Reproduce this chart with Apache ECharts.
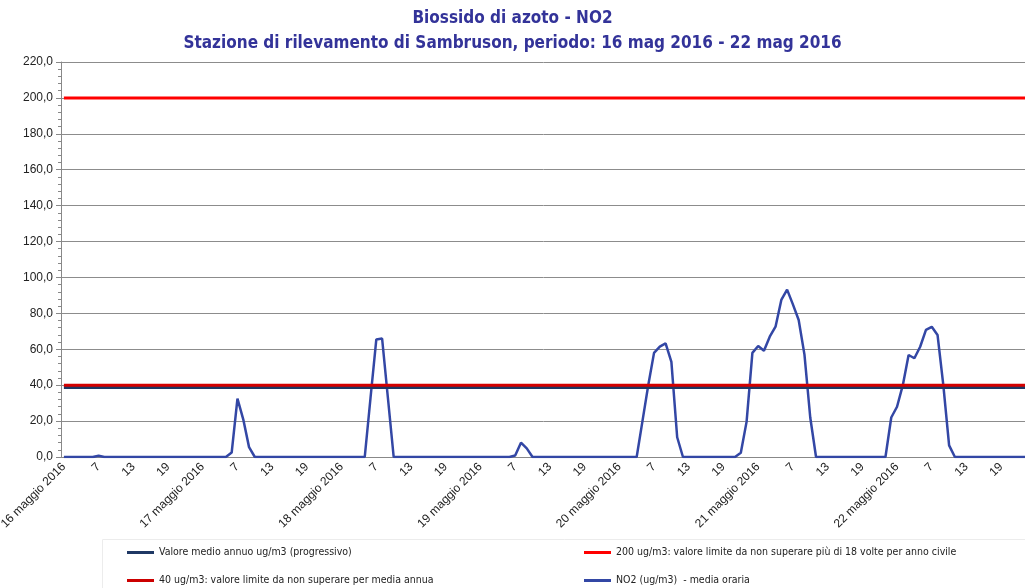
<!DOCTYPE html>
<html>
<head>
<meta charset="utf-8">
<script src="https://cdn.jsdelivr.net/npm/echarts@6/dist/echarts.min.js"></script>
<style>
  html, body { margin: 0; padding: 0; background: #fff; }
  #main { width: 1025px; height: 588px; }
</style>
</head>
<body>
<div id="main"></div>
<script>
// giorni e ore (etichette asse x)
var days = ['16 maggio 2016', '17 maggio 2016', '18 maggio 2016', '19 maggio 2016',
            '20 maggio 2016', '21 maggio 2016', '22 maggio 2016'];
var hourLabels = ['1','2','3','4','5','6','7','8','9','10','11','12',
                  '13','14','15','16','17','18','19','20','21','22','23','24'];

// NO2 media oraria (ug/m3), 24 valori per giorno
var no2_16 = [0,0,0,0,0,0,0.7,0,0,0,0,0, 0,0,0,0,0,0,0,0,0,0,0,0];
var no2_17 = [0,0,0,0,0,2.5,32.5,21,5.5,0,0,0, 0,0,0,0,0,0,0,0,0,0,0,0];
var no2_18 = [0,0,0,0,0,33,65.5,66,33,0,0,0, 0,0,0,0,0,0,0,0,0,0,0,0];
var no2_19 = [0,0,0,0,0,0,0.8,8,4.8,0,0,0, 0,0,0,0,0,0,0,0,0,0,0,0];
var no2_20 = [0,0,0,0,20,40,58,61.5,63.3,53,11,0, 0,0,0,0,0,0,0,0,0,2.4,19.7,58];
var no2_21 = [61.8,59.2,67,72.6,87.5,93.2,85,76.3,57,22,0,0, 0,0,0,0,0,0,0,0,0,0,0,22];
var no2_22 = [28,40,56.8,55,61.4,70.8,72.5,68,40,6.5,0,0, 0,0,0,0,0,0,0,0,0,0,0,0];

// valori costanti
var mediaAnnua = 38.7;
var limite200 = 200;
var limite40 = 40;

var no2 = [].concat(no2_16, no2_17, no2_18, no2_19, no2_20, no2_21, no2_22);
var categories = [];
days.forEach(function (d) {
  hourLabels.forEach(function (h, i) {
    categories.push(i === 0 ? d : h);
  });
});

var nomi = [
  'Valore medio annuo ug/m3 (progressivo)',
  '200 ug/m3: valore limite da non superare più di 18 volte per anno civile',
  '40 ug/m3: valore limite da non superare per media annua',
  'NO2 (ug/m3)  - media oraria'
];

var narrow = "'Liberation Sans Narrow', 'DejaVu Sans Condensed', sans-serif";

var chart = echarts.init(document.getElementById('main'));
var legendBase = {
  icon: 'rect', itemWidth: 27, itemHeight: 3,
  textStyle: { fontFamily: narrow, fontSize: 10.5, color: '#222' }
};
var option = {
  animation: false,
  title: {
    text: 'Biossido di azoto - NO2\nStazione di rilevamento di Sambruson, periodo: 16 mag 2016 - 22 mag 2016',
    left: 'center', top: 1,
    textStyle: { fontFamily: narrow, fontSize: 17, fontWeight: 'bold', color: '#333399', lineHeight: 25 }
  },
  graphic: [{
    type: 'rect', left: 100, top: 537,
    shape: { width: 930, height: 60 },
    style: { fill: 'none', stroke: '#ececec', lineWidth: 1 }
  }],
  legend: [
    Object.assign({ data: [nomi[0]], left: 122, top: 542 }, legendBase),
    Object.assign({ data: [nomi[1]], left: 579, top: 542 }, legendBase),
    Object.assign({ data: [nomi[2]], left: 122, top: 570 }, legendBase),
    Object.assign({ data: [nomi[3]], left: 579, top: 570 }, legendBase)
  ],
  grid: { left: 61, top: 62, width: 972, height: 395, containLabel: false, outerBoundsMode: 'none' },
  xAxis: {
    type: 'category',
    data: categories,
    boundaryGap: true,
    axisLine: { lineStyle: { color: '#888', width: 1 } },
    axisTick: { interval: 5, alignWithLabel: false, length: 5, lineStyle: { color: '#888' } },
    axisLabel: {
      interval: 5, rotate: 45, fontSize: 12, color: '#222',
      fontFamily: "'Liberation Sans', Arial, sans-serif", margin: 8
    },
    splitLine: { show: false }
  },
  yAxis: {
    type: 'value', min: 0, max: 220, interval: 20,
    axisLine: { show: true, lineStyle: { color: '#888' } },
    axisTick: { show: true, length: 5, lineStyle: { color: '#888' } },
    minorTick: { show: true, splitNumber: 5, length: 3, lineStyle: { color: '#888' } },
    axisLabel: {
      fontSize: 12, color: '#222', fontFamily: "'Liberation Sans', Arial, sans-serif",
      formatter: function (v) { return v.toFixed(1).replace('.', ','); }
    },
    splitLine: { show: true, lineStyle: { color: '#8c8c8c', width: 1 } }
  },
  series: [
    {
      name: nomi[3], type: 'line', data: no2, symbol: 'none', z: 2,
      itemStyle: { color: '#3347a5' },
      lineStyle: { color: '#3347a5', width: 2.5 }
    },
    {
      name: nomi[0], type: 'line', symbol: 'none', z: 3,
      data: categories.map(function () { return mediaAnnua; }),
      itemStyle: { color: '#1f3864' },
      lineStyle: { color: '#1f3864', width: 3 }
    },
    {
      name: nomi[2], type: 'line', symbol: 'none', z: 4,
      data: categories.map(function () { return limite40; }),
      itemStyle: { color: '#cc0000' },
      lineStyle: { color: '#d40000', width: 3 }
    },
    {
      name: nomi[1], type: 'line', symbol: 'none', z: 4,
      data: categories.map(function () { return limite200; }),
      itemStyle: { color: '#ff0000' },
      lineStyle: { color: '#ff0000', width: 3 }
    }
  ]
};
chart.setOption(option);
</script>
</body>
</html>
